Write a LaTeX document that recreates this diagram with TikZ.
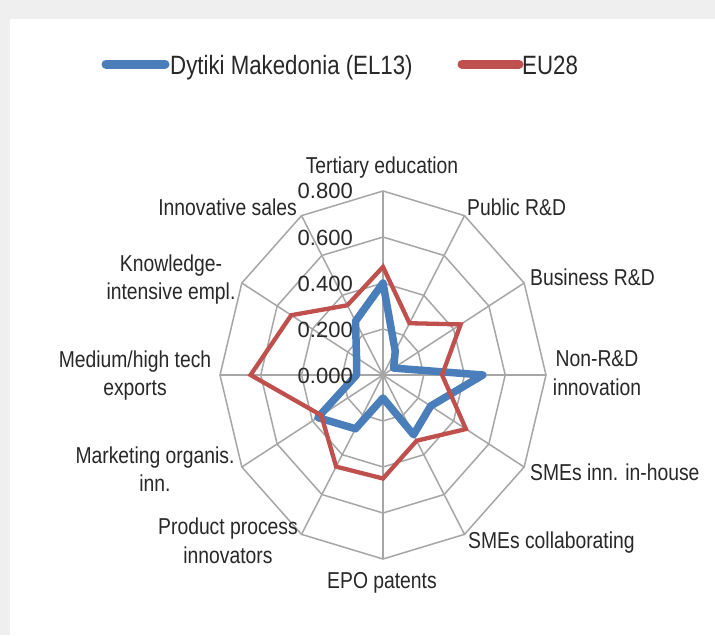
\documentclass[tikz,border=0pt]{standalone}
\usepackage{fontspec}
\setmainfont{Liberation Sans}
\newfontfamily\labfont[FakeStretch=0.84]{Liberation Sans}
\definecolor{seriesblue}{HTML}{4A7EBB}
\definecolor{seriesred}{HTML}{C0504D}
\definecolor{gridgray}{HTML}{A6A6A6}
\definecolor{txtgray}{HTML}{282828}
\definecolor{framegray}{HTML}{EFEFEF}
\tikzset{
  axlabel/.style={inner sep=0pt, text=txtgray, font=\labfont\fontsize{23}{28.5}\selectfont, align=center},
  leglabel/.style={inner sep=0pt, text=txtgray, font=\labfont\fontsize{26.5}{30}\selectfont},
  scalelabel/.style={inner sep=0pt, text=txtgray, font=\fontsize{22}{24}\selectfont, anchor=base east},
  gridline/.style={draw=gridgray, line width=1.5pt},
  bluepath/.style={draw=seriesblue, line width=7.5pt, line join=round},
  redpath/.style={draw=seriesred, line width=4.3pt, line join=miter},
  legline/.style={line width=9pt, line cap=round}
}
\begin{document}
\begin{tikzpicture}[x=1pt,y=-1pt]
\useasboundingbox (0,0) rectangle (715,635);
\fill[framegray] (0,0) rectangle (715,635);
\fill[white] (10,19) rectangle (715,635);

% legend
\coordinate (lb1) at (106,64);
\coordinate (lb2) at (165,64);
\coordinate (lr1) at (462,64);
\coordinate (lr2) at (519,64);
\draw[legline, seriesblue] (lb1) -- (lb2);
\draw[legline, seriesred] (lr1) -- (lr2);
\node[leglabel, anchor=base west] (legblue) at (170,74) {Dytiki Makedonia (EL13)};
\node[leglabel, anchor=base west] (legred) at (522,74) {EU28};

% radar chart
\begin{scope}[shift={(383pt,-375pt)}, x={(203.75pt,0pt)}, y={(0pt,230pt)}]
  \foreach \r in {0.2,0.4,0.6,0.8}
    \draw[gridline] (90:\r) \foreach \a in {60,30,...,-240} { -- (\a:\r) } -- cycle;
  \foreach \a in {0,30,...,330}
    \draw[gridline] (0,0) -- (\a:0.8);
  % Dytiki Makedonia (EL13)
  \draw[bluepath] (90:0.40) -- (60:0.12) -- (30:0.06) -- (0:0.49) -- (-30:0.27)
     -- (-60:0.30) -- (-90:0.10) -- (-120:0.27) -- (-150:0.37) -- (180:0.13)
     -- (150:0.15) -- (120:0.27) -- cycle;
  % EU28
  \draw[redpath] (90:0.47) -- (60:0.26) -- (30:0.44) -- (0:0.29) -- (-30:0.47)
     -- (-60:0.33) -- (-90:0.45) -- (-120:0.46) -- (-150:0.35) -- (180:0.65)
     -- (150:0.52) -- (120:0.35) -- cycle;
\end{scope}

% scale labels
\node[scalelabel] (s8) at (353,198) {0.800};
\node[scalelabel] (s6) at (353,245) {0.600};
\node[scalelabel] (s4) at (353,291.5) {0.400};
\node[scalelabel] (s2) at (353,337) {0.200};
\node[scalelabel] (s0) at (353,383) {0.000};

% axis labels
\node[axlabel, anchor=base] (tert) at (382,173) {Tertiary education};
\node[axlabel, anchor=base west] (pub) at (467,215) {Public R\&D};
\node[axlabel, anchor=base west] (bus) at (530,285) {Business R\&D};
\node[axlabel] (nonrd) at (597,373.3) {Non-R\&D\\innovation};
\node[axlabel, anchor=base west] (smein) at (530,480) {SMEs inn. in-house};
\node[axlabel, anchor=base west] (smecol) at (468,548) {SMEs collaborating};
\node[axlabel, anchor=base] (epo) at (382,588) {EPO patents};
\node[axlabel] (prod) at (228,540.7) {Product process\\innovators};
\node[axlabel] (mkt) at (155,469) {Marketing organis.\\inn.};
\node[axlabel] (med) at (135,375.5) {Medium/high tech\\exports};
\node[axlabel] (know) at (171,279.7) {Knowledge-\\intensive empl.};
\node[axlabel, anchor=base east] (innov) at (297,215) {Innovative sales};
\end{tikzpicture}
\end{document}
